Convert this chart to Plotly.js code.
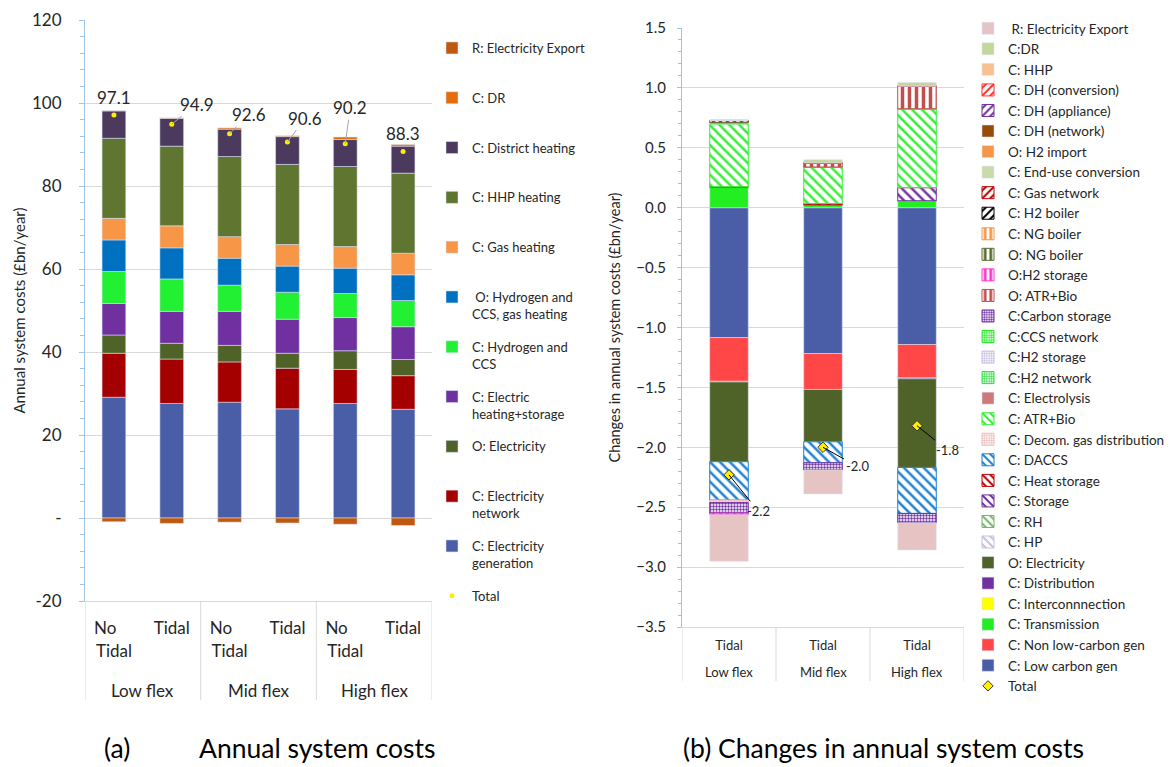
<!DOCTYPE html>
<html><head><meta charset="utf-8">
<script src="https://cdn.plot.ly/plotly-3.0.1.min.js"></script>
<style>html,body{margin:0;padding:0;background:#fff;}#chart{width:1176px;height:767px;}</style>
</head><body><div id="chart"></div>
<script>
// ---------- Panel (a): annual system costs (£bn/year) ----------
const groupsA = ["Low flex", "Low flex", "Mid flex", "Mid flex", "High flex", "High flex"];
const casesA = ["No Tidal", "Tidal", "No Tidal", "Tidal", "No Tidal", "Tidal"];
const elecGeneration = [29.1, 27.6, 27.9, 26.3, 27.6, 26.2];
const elecNetwork = [10.6, 10.7, 9.7, 9.8, 8.2, 8.1];
const oElectricityA = [4.4, 3.8, 4.0, 3.6, 4.5, 3.9];
const elecHeatingStorage = [7.6, 7.7, 8.2, 8.2, 8.0, 7.9];
const hydrogenCCS = [7.7, 7.8, 6.3, 6.5, 5.8, 6.3];
const oHydrogenGasHeating = [7.6, 7.5, 6.5, 6.3, 6.1, 6.2];
const gasHeating = [5.2, 5.3, 5.2, 5.2, 5.2, 5.2];
const hhpHeating = [19.3, 19.2, 19.3, 19.3, 19.3, 19.3];
const districtHeating = [6.6, 6.7, 6.6, 6.7, 6.5, 6.5];
const drA = [0.05, 0.1, 0.3, 0.2, 0.6, 0.4];
const exportA = [-0.9, -1.3, -1.0, -1.2, -1.5, -1.8];
const totalsA = [97.1, 94.9, 92.6, 90.6, 90.2, 88.3];
const yTickValsA = [-20, 0, 20, 40, 60, 80, 100, 120];
const yTickTextA = ["-20", "-", "20", "40", "60", "80", "100", "120"];

// ---------- Panel (b): changes in annual system costs (£bn/year) ----------
const groupsB = ["Low flex", "Mid flex", "High flex"];
const casesB = ["Tidal", "Tidal", "Tidal"];
const lowCarbonGen = [-1.084, -1.217, -1.142];
const nonLowCarbonGen = [-0.365, -0.300, -0.276];
const transmission = [0.175, 0.025, 0.058];
const interconnection = [0, 0, 0];
const distribution = [-0.006, 0, -0.010];
const oElectricityB = [-0.665, -0.437, -0.740];
const hp = [0, 0, 0];
const rh = [0, 0, 0];
const storage = [0, 0, 0.110];
const heatStorage = [0, 0.010, 0];
const daccs = [-0.320, -0.175, -0.384];
const decomGas = [-0.020, 0, 0];
const atrBioC = [0.523, 0.305, 0.658];
const electrolysis = [0.015, 0, 0];
const h2Network = [0, 0, 0];
const h2StorageC = [0, 0, 0];
const ccsNetwork = [0, 0, 0];
const carbonStorage = [-0.090, -0.060, -0.078];
const atrBioO = [0, 0.036, 0.190];
const h2StorageO = [-0.012, 0, 0];
const ngBoilerO = [0.015, 0, 0];
const ngBoilerC = [0, 0, 0];
const h2Boiler = [0, 0, 0];
const gasNetwork = [0, 0, 0];
const endUseConversion = [0, 0, 0];
const h2Import = [0, 0, 0];
const dhNetwork = [0, 0, 0];
const dhAppliance = [0, 0, 0];
const dhConversion = [0, 0, 0];
const hhp = [0, 0, 0];
const drB = [0, 0.025, 0.030];
const exportB = [-0.390, -0.200, -0.228];
const totalsB = [-2.23, -2.00, -1.82];

// ---------- series styling (stack order, bottom first) ----------
const seriesA = [
  {name: "C: Electricity<br>generation", y: elecGeneration, color: "#4a5ea8"},
  {name: "C: Electricity<br>network", y: elecNetwork, color: "#a50000"},
  {name: "O: Electricity", y: oElectricityA, color: "#4f6228"},
  {name: "C: Electric<br>heating+storage", y: elecHeatingStorage, color: "#7030a0"},
  {name: "C: Hydrogen and<br>CCS", y: hydrogenCCS, color: "#22f032"},
  {name: " O: Hydrogen and<br>CCS, gas heating", y: oHydrogenGasHeating, color: "#0070c0"},
  {name: "C: Gas heating", y: gasHeating, color: "#f79646"},
  {name: "C: HHP heating", y: hhpHeating, color: "#5f7530"},
  {name: "C: District heating", y: districtHeating, color: "#4b3a5e"},
  {name: "C: DR", y: drA, color: "#e46c0a"},
  {name: "R: Electricity Export", y: exportA, color: "#c0590f"}
];
const seriesB = [
  {name: "C: Low carbon gen", y: lowCarbonGen, color: "#4a5ea8"},
  {name: "C: Non low-carbon gen", y: nonLowCarbonGen, color: "#ff4747"},
  {name: "C: Transmission", y: transmission, color: "#22ee22"},
  {name: "C: Interconnnection", y: interconnection, color: "#ffff00"},
  {name: "C: Distribution", y: distribution, color: "#7030a0"},
  {name: "O: Electricity", y: oElectricityB, color: "#4f6228"},
  {name: "C: HP", y: hp, color: "#c9bfe0", shape: "\\"},
  {name: "C: RH", y: rh, color: "#77b36b", shape: "\\"},
  {name: "C: Storage", y: storage, color: "#7030a0", shape: "\\"},
  {name: "C: Heat storage", y: heatStorage, color: "#c00000", shape: "\\"},
  {name: "C: DACCS", y: daccs, color: "#1f7fd0", shape: "\\"},
  {name: "C: Decom. gas distribution", y: decomGas, color: "#efbcbc", shape: "."},
  {name: "C: ATR+Bio", y: atrBioC, color: "#33ee33", shape: "\\"},
  {name: "C: Electrolysis", y: electrolysis, color: "#cf7a7a"},
  {name: "C:H2 network", y: h2Network, color: "#33dd44", shape: "."},
  {name: "C:H2 storage", y: h2StorageC, color: "#c9bfe0", shape: "."},
  {name: "C:CCS network", y: ccsNetwork, color: "#22ee22", shape: "."},
  {name: "C:Carbon storage", y: carbonStorage, color: "#7030a0", shape: "."},
  {name: "O: ATR+Bio", y: atrBioO, color: "#c0504d", shape: "|"},
  {name: "O:H2 storage", y: h2StorageO, color: "#ff33cc", shape: "|"},
  {name: "O: NG boiler", y: ngBoilerO, color: "#5a6e2e", shape: "|"},
  {name: "C: NG boiler", y: ngBoilerC, color: "#f79646", shape: "|"},
  {name: "C: H2 boiler", y: h2Boiler, color: "#000000", shape: "/"},
  {name: "C: Gas network", y: gasNetwork, color: "#c00000", shape: "/"},
  {name: "C: End-use conversion", y: endUseConversion, color: "#c9dba8"},
  {name: "O: H2 import", y: h2Import, color: "#f79646"},
  {name: "C: DH (network)", y: dhNetwork, color: "#984807"},
  {name: "C: DH (appliance)", y: dhAppliance, color: "#7030a0", shape: "/"},
  {name: "C: DH (conversion)", y: dhConversion, color: "#ff3333", shape: "/"},
  {name: "C: HHP", y: hhp, color: "#fac090"},
  {name: "C:DR", y: drB, color: "#c4d79b"},
  {name: "&nbsp;R: Electricity Export", y: exportB, color: "#e6c4c4"}
];

const idxA = casesA.map((_, i) => i);
const idxB = casesB.map((_, i) => i);
const BARW = 0.41;
const traces = [];

// totals first so that "reversed" legends list them last
traces.push({type: "scatter", mode: "markers", name: "Total<br>&nbsp;", x: idxA, y: totalsA,
  xaxis: "x", yaxis: "y", legend: "legend", legendgroup: "a_total", legendrank: 1000,
  marker: {color: "#ffee00", size: 5, symbol: "circle", line: {width: 0}}, hoverinfo: "y"});
traces.push({type: "scatter", mode: "markers", name: "Total", x: idxB, y: totalsB,
  xaxis: "x2", yaxis: "y2", legend: "legend2",
  marker: {color: "#ffee00", size: 8, symbol: "diamond", line: {width: 1, color: "#333"}}, hoverinfo: "y"});

seriesA.forEach((s, k) => {
  const label = s.name.indexOf("<br>") >= 0 ? s.name : s.name + "<br>&nbsp;";
  traces.push({type: "bar", name: label, x: idxA, y: s.y, width: BARW,
    xaxis: "x", yaxis: "y", legend: "legend", legendgroup: "a" + k, legendrank: 100 + seriesA.length - k,
    marker: {color: s.color, line: {color: "rgba(220,228,245,0.9)", width: 0.6}}});
});
seriesB.forEach(s => {
  const m = {color: s.color, line: {color: s.shape ? s.color : "rgba(220,228,245,0.9)", width: s.shape ? 1 : 0.6}};
  if (s.shape) {
    m.color = "#ffffff";
    m.pattern = {shape: s.shape, fgcolor: s.color, bgcolor: "#ffffff",
      size: s.shape === "." ? 3 : 7, solidity: s.shape === "." ? 0.5 : (s.shape === "|" ? 0.5 : 0.35), fillmode: "replace"};
  }
  traces.push({type: "bar", name: s.name, x: idxB, y: s.y, width: BARW,
    xaxis: "x2", yaxis: "y2", legend: "legend2", marker: m});
});

const W = 1176, H = 767;
const px = v => v / W, py = v => (H - v) / H;
const txt = "#262626";
const FONT = "Lato, 'Open Sans', 'DejaVu Sans', sans-serif";

// leader label offsets (px) for totals
const offA = [[0, -18, false], [25, -20, true], [19, -19, true], [18, -24, true], [5, -36, true], [0, -18, false]];
const offB = [[29, 36], [34, 19], [30, 24]];

const annotations = [];
totalsA.forEach((t, i) => annotations.push({xref: "x", yref: "y", x: i, y: t, text: t.toFixed(1),
  showarrow: true, ax: offA[i][0], ay: offA[i][1], arrowhead: 0, arrowwidth: 1, standoff: 0,
  arrowcolor: offA[i][2] ? "#a6a6a6" : "rgba(0,0,0,0)", font: {size: 17, color: txt}}));
totalsB.forEach((t, i) => annotations.push({xref: "x2", yref: "y2", x: i, y: t, text: t.toFixed(1),
  showarrow: true, ax: offB[i][0], ay: offB[i][1], arrowhead: 0, arrowwidth: 1, standoff: 0,
  arrowcolor: "#000", font: {size: 13, color: txt}}));

// group labels and dividers
const shapes = [];
function groupInfo(groups) {
  const out = []; let start = 0;
  for (let i = 1; i <= groups.length; i++) {
    if (i === groups.length || groups[i] !== groups[start]) { out.push({name: groups[start], a: start, b: i - 1}); start = i; }
  }
  return out;
}
groupInfo(groupsA).forEach((g, k) => {
  annotations.push({xref: "x", yref: "paper", x: (g.a + g.b) / 2, y: py(690), text: g.name, showarrow: false,
    font: {size: 17, color: txt}, xanchor: "center", yanchor: "middle"});
  if (k === 0) shapes.push({type: "line", xref: "x", yref: "paper", x0: g.a - 0.5, x1: g.a - 0.5, y0: py(601), y1: py(700), line: {color: "#d9d9d9", width: 1}});
  shapes.push({type: "line", xref: "x", yref: "paper", x0: g.b + 0.5, x1: g.b + 0.5, y0: py(601), y1: py(700), line: {color: "#d9d9d9", width: 1}});
});
groupInfo(groupsB).forEach((g, k) => {
  annotations.push({xref: "x2", yref: "paper", x: (g.a + g.b) / 2, y: py(672), text: g.name, showarrow: false,
    font: {size: 13, color: txt}, xanchor: "center", yanchor: "middle"});
  if (k === 0) shapes.push({type: "line", xref: "x2", yref: "paper", x0: g.a - 0.5, x1: g.a - 0.5, y0: py(627), y1: py(681), line: {color: "#d9d9d9", width: 1}});
  shapes.push({type: "line", xref: "x2", yref: "paper", x0: g.b + 0.5, x1: g.b + 0.5, y0: py(627), y1: py(681), line: {color: "#d9d9d9", width: 1}});
});

// captions
const capFont = {size: 26.5, color: "#000"};
annotations.push({xref: "paper", yref: "paper", x: px(117), y: py(748), xanchor: "center", yanchor: "middle", text: "(a)", showarrow: false, font: capFont});
annotations.push({xref: "paper", yref: "paper", x: px(317), y: py(748), xanchor: "center", yanchor: "middle", text: "Annual system costs", showarrow: false, font: capFont});
annotations.push({xref: "paper", yref: "paper", x: px(884), y: py(748), xanchor: "center", yanchor: "middle", text: "(b) Changes in annual system costs", showarrow: false, font: capFont});

const tickTextA = casesA.map(c => c === "No Tidal" ? "No&nbsp;&nbsp;&nbsp;&nbsp;<br>Tidal" : c);
const axisBlue = "#9dc3e6";

const layout = {
  width: W, height: H, margin: {l: 0, r: 0, t: 0, b: 0, autoexpand: false},
  paper_bgcolor: "#fff", plot_bgcolor: "#fff",
  font: {family: FONT, color: txt},
  barmode: "relative", showlegend: true, hovermode: false,
  xaxis: {domain: [px(85), px(432)], anchor: "y", range: [-0.5, casesA.length - 0.5],
    tickvals: idxA, ticktext: tickTextA, tickfont: {size: 17, color: txt}, ticks: "",
    ticklabelstandoff: 12, showgrid: false, zeroline: false, showline: true, linecolor: "#d9d9d9", fixedrange: true},
  yaxis: {domain: [py(601), py(20)], anchor: "x", range: [-20, 120],
    tickvals: yTickValsA, ticktext: yTickTextA, tickfont: {size: 17, color: txt},
    gridcolor: "#d9d9d9", zeroline: false, showline: true, linecolor: axisBlue,
    ticks: "outside", ticklen: 5, tickcolor: axisBlue, ticklabelstandoff: 14,
    minor: {dtick: 4, tick0: 0, ticks: "outside", ticklen: 4, tickcolor: axisBlue, showgrid: false},
    title: {text: "Annual system costs (£bn/year)", font: {size: 15, color: txt}, standoff: 2}, fixedrange: true},
  xaxis2: {domain: [px(682), px(964)], anchor: "y2", range: [-0.5, casesB.length - 0.5],
    tickvals: idxB, ticktext: casesB, tickfont: {size: 13, color: txt}, ticks: "",
    ticklabelstandoff: 6, showgrid: false, zeroline: false, showline: true, linecolor: "#d9d9d9", fixedrange: true},
  yaxis2: {domain: [py(627), py(28)], anchor: "x2", range: [-3.5, 1.5], tick0: 0, dtick: 0.5, tickformat: ".1f",
    tickfont: {size: 15, color: txt}, gridcolor: "#d9d9d9", zeroline: false, showline: true, linecolor: axisBlue,
    ticks: "outside", ticklen: 4, tickcolor: axisBlue, ticklabelstandoff: 8,
    minor: {dtick: 0.1, ticks: "outside", ticklen: 3, tickcolor: axisBlue, showgrid: false},
    title: {text: "Changes in annual system costs (£bn/year)", font: {size: 14.5, color: txt}, standoff: 12}, fixedrange: true},
  legend: {x: px(432), y: py(33), xanchor: "left", yanchor: "top", traceorder: "grouped", valign: "top",
    font: {size: 13, color: txt}, bgcolor: "rgba(0,0,0,0)", tracegroupgap: 13},
  legend2: {x: px(968), y: py(13), xanchor: "left", yanchor: "top", traceorder: "reversed",
    font: {size: 13.5, color: txt}, bgcolor: "rgba(0,0,0,0)"},
  annotations: annotations, shapes: shapes
};

Plotly.newPlot("chart", traces, layout, {staticPlot: true, displayModeBar: false});
</script></body></html>
